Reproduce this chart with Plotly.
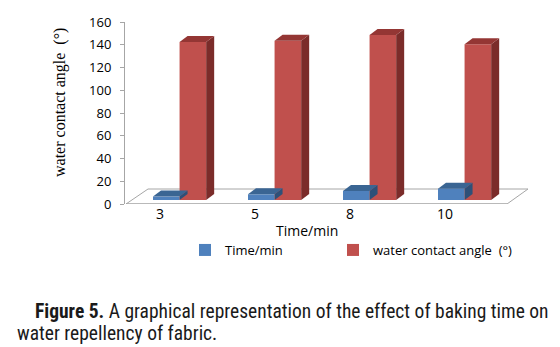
import plotly.graph_objects as go

# Baking time categories and measured values
categories = ["3", "5", "8", "10"]
time_min = [3, 5, 8, 10]
contact_angle = [139, 140, 145, 137]

series_names = ["Time/min", "water contact angle  (°)"]

# Face colours: front, top, side
blue_faces = ("#4F81BD", "#3A6593", "#2E5078")
red_faces = ("#C0504D", "#943634", "#7B2C2A")

W, H = 560, 347
M_L, M_R, M_T, M_B = 125, 25, 22, 143
plot_w = W - M_L - M_R
plot_h = H - M_T - M_B

# x: one unit per category, category 0 sits 35 px right of the plot edge
px_per_cat = 95.0
x0 = -35.0 / px_per_cat
x_range = [x0, x0 + plot_w / px_per_cat]

# visible value axis 0..160; bars sit on the floor 4 px higher (y2)
px_per_unit = plot_h / 160.0
y2_shift = 4.0 / px_per_unit
y2_range = [-y2_shift, 160 - y2_shift]

# 3-D depth of each bar
depth_dx = 8.0 / px_per_cat
depth_dy = 6.0 / px_per_unit

bar_w = 0.28
blue_off = -0.074
red_off = blue_off + bar_w

fig = go.Figure()

# keeps the value axis (y) drawn; carries no visible marks
fig.add_trace(go.Scatter(x=[0, 0], y=[0, 160], mode="markers", opacity=0,
                         showlegend=False, hoverinfo="skip", yaxis="y"))

shapes = []

# chart floor
fx = lambda p: (p - M_L) / px_per_cat + x0
fy = lambda p: (H - M_B - p) / px_per_unit - y2_shift
floor = [(126, 204), (507, 204), (528, 189), (148, 189)]
path = "M " + " L ".join(f"{fx(a)},{fy(b)}" for a, b in floor) + " Z"
shapes.append(dict(type="path", path=path, xref="x", yref="y2",
                   fillcolor="white", line=dict(color="#A6A6A6", width=1), layer="below"))
shapes.append(dict(type="line", xref="x", yref="y2",
                   x0=fx(126), x1=fx(507), y0=fy(204.5), y1=fy(204.5),
                   line=dict(color="#A0A0A0", width=2)))


def bar_3d(xc, val, off, faces, name, showlegend, legend):
    left = xc + off
    right = left + bar_w
    fig.add_trace(go.Bar(
        x=[left + bar_w / 2], y=[val], width=[bar_w], base=[0],
        marker=dict(color=faces[0], line=dict(width=0)),
        name=name, showlegend=showlegend, legendgroup=name, legend=legend,
        yaxis="y2", hoverinfo="skip",
    ))
    top = (f"M {left},{val} L {right},{val} L {right + depth_dx},{val + depth_dy} "
           f"L {left + depth_dx},{val + depth_dy} Z")
    side = (f"M {right},0 L {right},{val} L {right + depth_dx},{val + depth_dy} "
            f"L {right + depth_dx},{depth_dy} Z")
    return [
        dict(type="path", path=side, xref="x", yref="y2",
             fillcolor=faces[2], line=dict(width=0), layer="above"),
        dict(type="path", path=top, xref="x", yref="y2",
             fillcolor=faces[1], line=dict(width=0), layer="above"),
    ]


for i, (t, a) in enumerate(zip(time_min, contact_angle)):
    shapes += bar_3d(i, t, blue_off, blue_faces, series_names[0], i == 0, "legend")
    shapes += bar_3d(i, a, red_off, red_faces, series_names[1], i == 0, "legend2")

cap_font = dict(family="Roboto Condensed, sans-serif", size=19.5, color="#1A1A1A")
leg_y = (H - M_B - 250) / plot_h
leg_common = dict(orientation="h", y=leg_y, xanchor="left", yanchor="middle",
                  font=dict(size=13, color="#000000"), itemwidth=30,
                  bgcolor="rgba(0,0,0,0)")

fig.update_layout(
    width=W, height=H,
    margin=dict(l=M_L, r=M_R, t=M_T, b=M_B),
    paper_bgcolor="white", plot_bgcolor="white",
    barmode="overlay",
    showlegend=True,
    font=dict(family="Open Sans, sans-serif", color="#000000"),
    xaxis=dict(
        range=x_range, tickmode="array",
        tickvals=list(range(len(categories))), ticktext=categories,
        showgrid=False, zeroline=False, showline=False,
        ticks="", tickfont=dict(size=14, color="#000000"),
        ticklabelstandoff=0,
    ),
    yaxis=dict(
        range=[0, 160], tickvals=list(range(0, 161, 20)),
        showgrid=False, zeroline=False,
        showline=True, linecolor="#A6A6A6", linewidth=1,
        ticks="outside", ticklen=4, tickcolor="#A6A6A6",
        tickfont=dict(size=13, color="#000000"),
        ticklabelstandoff=6,
    ),
    yaxis2=dict(range=y2_range, overlaying="y", visible=False),
    legend=dict(x=(185 - M_L) / plot_w, **leg_common),
    legend2=dict(x=(333 - M_L) / plot_w, **leg_common),
    shapes=shapes,
    annotations=[
        dict(text="Time/min", xref="paper", yref="paper",
             x=(307 - M_L) / plot_w, y=(H - M_B - 230) / plot_h,
             xanchor="center", yanchor="middle", showarrow=False,
             font=dict(size=14, color="#000000")),
        dict(text="water contact angle  (°)", textangle=-90,
             xref="paper", yref="paper",
             x=(60 - M_L) / plot_w, y=(H - M_B - 103) / plot_h,
             xanchor="center", yanchor="middle", showarrow=False,
             font=dict(family="Liberation Serif, serif", size=16, color="#000000")),
        dict(text="<b>Figure 5.</b> A graphical representation of the effect of baking time on",
             xref="paper", yref="paper",
             x=(33 - M_L) / plot_w, y=(H - M_B - 311) / plot_h,
             xanchor="left", yanchor="middle", showarrow=False, font=cap_font),
        dict(text="water repellency of fabric.",
             xref="paper", yref="paper",
             x=(15 - M_L) / plot_w, y=(H - M_B - 333) / plot_h,
             xanchor="left", yanchor="middle", showarrow=False, font=cap_font),
    ],
)

fig.write_html("out.html")
